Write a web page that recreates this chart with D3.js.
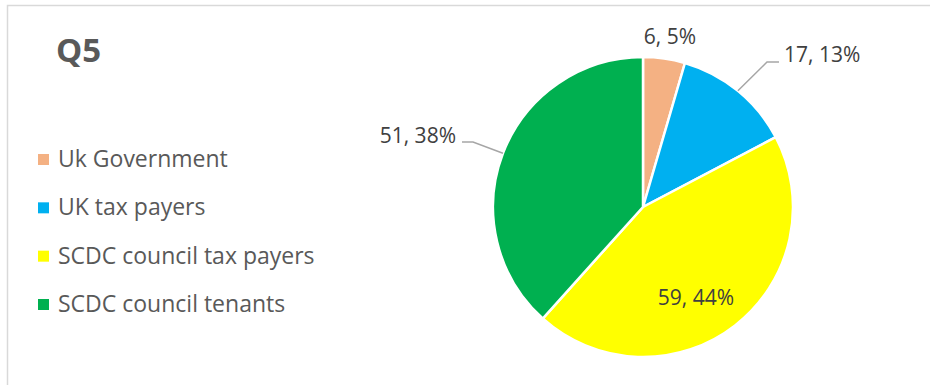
<!DOCTYPE html>
<html>
<head>
<meta charset="utf-8">
<script src="https://cdn.jsdelivr.net/npm/d3@7"></script>
<style>
  html, body { margin: 0; padding: 0; background: #fff; }
  svg { display: block; }
</style>
</head>
<body>
<svg id="chart" width="930" height="385"></svg>
<script>
// Survey responses for Q5
const categories = ["Uk Government", "UK tax payers", "SCDC council tax payers", "SCDC council tenants"];
const counts = [6, 17, 59, 51];
const colors = ["#F4B183", "#00B0F0", "#FFFF00", "#00B050"];
const title = "Q5";

const svg = d3.select("#chart");
const font = "'Open Sans', 'Liberation Sans', sans-serif";

// chart frame (extends past the right and bottom edges)
svg.append("rect")
  .attr("x", 7.5).attr("y", 5.5)
  .attr("width", 940).attr("height", 400)
  .attr("fill", "#fff")
  .attr("stroke", "#d9d9d9")
  .attr("stroke-width", 1.5);

// title
svg.append("text")
  .attr("x", 56).attr("y", 62)
  .attr("font-family", font)
  .attr("font-weight", "bold")
  .attr("font-size", 33)
  .attr("fill", "#595959")
  .text(title);

// pie
const cx = 643, cy = 207, r = 150;
const total = d3.sum(counts);
const data = categories.map((c, i) => ({ name: c, value: counts[i], color: colors[i] }));
const pie = d3.pie().value(d => d.value).sort(null);
const arcs = pie(data);
const arc = d3.arc().innerRadius(0).outerRadius(r);

const g = svg.append("g").attr("transform", `translate(${cx},${cy})`);
g.selectAll("path.slice")
  .data(arcs)
  .join("path")
  .attr("class", "slice")
  .attr("d", arc)
  .attr("fill", d => d.data.color)
  .attr("stroke", "#fff")
  .attr("stroke-width", 2.5)
  .attr("stroke-linejoin", "round");

// data labels: "count, percent"
const fmt = d => `${d.data.value}, ${Math.round(d.data.value / total * 100)}%`;
const labelFont = 21;
const labelColor = "#404040";
const leaderColor = "#a6a6a6";

// point on the rim at the slice's mid angle
function rim(d, rr) {
  const a = (d.startAngle + d.endAngle) / 2;
  return [Math.sin(a) * rr, -Math.cos(a) * rr];
}

// label placement relative to pie centre; leader = polyline points (or null)
const placements = [
  { anchor: "middle", pos: [27, -170], leader: null },
  { anchor: "start", pos: [141, -152], leader: [[124, -145], [136, -145]] },
  { anchor: "middle", pos: [53, 91], leader: null },
  { anchor: "end", pos: [-187, -71], leader: [[-170, -65], [-181, -65]] }
];

arcs.forEach((d, i) => {
  const p = placements[i];
  if (p.leader) {
    const start = rim(d, r);
    const pts = [start].concat(p.leader);
    g.append("polyline")
      .attr("points", pts.map(q => q.join(",")).join(" "))
      .attr("fill", "none")
      .attr("stroke", leaderColor)
      .attr("stroke-width", 1.5);
  }
  g.append("text")
    .attr("x", p.pos[0]).attr("y", p.pos[1])
    .attr("dy", "0.35em")
    .attr("text-anchor", p.anchor)
    .attr("font-family", font)
    .attr("font-size", labelFont)
    .attr("fill", labelColor)
    .text(fmt(d));
});

// legend
const legend = svg.append("g");
const rowY = d3.scalePoint().domain(categories).range([159, 304]);
categories.forEach((c, i) => {
  const y = rowY(c);
  legend.append("rect")
    .attr("x", 38).attr("y", y - 5)
    .attr("width", 11).attr("height", 11)
    .attr("fill", colors[i]);
  legend.append("text")
    .attr("x", 58).attr("y", y)
    .attr("dy", "0.35em")
    .attr("font-family", font)
    .attr("font-size", 23)
    .attr("fill", "#595959")
    .text(c);
});
</script>
</body>
</html>
